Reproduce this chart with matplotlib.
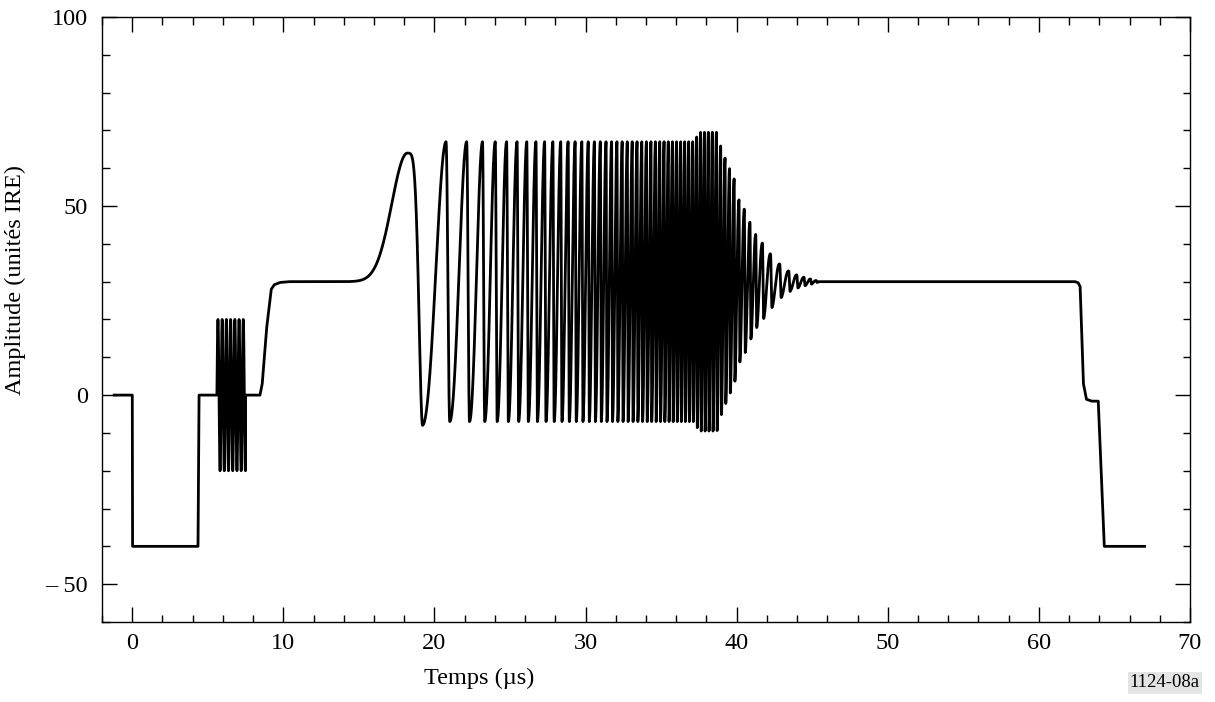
import numpy as np
import matplotlib
matplotlib.use("Agg")
import matplotlib.pyplot as plt
from matplotlib.ticker import MultipleLocator, FuncFormatter

plt.rcParams['font.family'] = ['Liberation Serif', 'DejaVu Serif']

# waveform: time in µs, amplitude in IRE units
start_t = [-1.2, 0.0, 0.02, 4.35, 4.42, 5.6]
start_v = [0, 0, -40, -40, 0, 0]

burst_start, burst_end = 5.6, 7.5
burst_freq = 3.58          # MHz
burst_amp = 20

step_t = [7.5, 8.45, 8.6, 8.9, 9.2, 9.4, 9.8, 10.4, 13.0]
step_v = [0, 0, 3, 18, 28, 29.2, 29.8, 30, 30]

hump_start, hump_peak_t, hump_peak_v, hump_width = 13.0, 18.2, 64, 1.45
first_trough_t, first_trough_v = 19.21, -8

sweep_center = 30
sweep_rise = 0.84          # share of each cycle spent rising
# apparent cycle rate along the sweep (MHz), read from peak spacing
sweep_freq_t = [19.2, 20.1, 21.7, 22.85, 23.75, 28.0, 31.0, 34.0, 36.0, 38.0,
                38.7, 39.9, 40.5, 41.2, 41.7, 42.5, 43.3, 44.0, 44.7, 45.5]
sweep_freq_mhz = [0.45, 0.55, 0.76, 0.99, 1.23, 1.9, 2.6, 3.3, 3.7, 3.9,
                  3.6, 3.2, 2.7, 2.6, 2.0, 1.6, 1.7, 2.0, 2.3, 3.0]
env_t = [19.2, 20.5, 37.2, 37.5, 38.7, 39.0, 39.4, 39.85, 40.1, 40.6, 40.9,
         41.2, 41.7, 42.3, 43.0, 43.6, 44.1, 44.5, 45.0, 45.5]
env_a = [38, 37, 37, 39.5, 39.5, 35, 31, 27, 22, 18.5, 15.5,
         12.8, 10.2, 7, 4, 2.4, 1.6, 1.1, 0.6, 0]
sweep_end = 45.5

tail_t = [45.5, 62.4, 62.6, 62.73, 62.95, 63.15, 63.5, 63.93, 64.33, 67.0]
tail_v = [30, 30, 29.7, 28.7, 3, -1.1, -1.6, -1.6, -40, -40]

# build the trace
tb = np.linspace(burst_start, burst_end, 600)
vb = burst_amp * np.sin(2 * np.pi * burst_freq * (tb - burst_start))

th = np.linspace(hump_start, hump_peak_t, 300)
vh = sweep_center + (hump_peak_v - sweep_center) * np.exp(-((th - hump_peak_t) / hump_width) ** 2)

tf = np.linspace(hump_peak_t, first_trough_t, 200)
s = (tf - hump_peak_t) / (first_trough_t - hump_peak_t)
mid = (hump_peak_v + first_trough_v) / 2
half = (hump_peak_v - first_trough_v) / 2
vf = mid + half * np.cos(np.pi * s ** 2.2)

ts = np.arange(first_trough_t, sweep_end, 0.002)
fr = np.interp(ts, sweep_freq_t, sweep_freq_mhz)
ncyc = np.concatenate([[0], np.cumsum((fr[1:] + fr[:-1]) / 2 * np.diff(ts))])
u = ncyc % 1.0
shape = np.where(u < sweep_rise,
                 -np.cos(np.pi * u / sweep_rise),
                 np.cos(np.pi * (u - sweep_rise) / (1 - sweep_rise)))
vs = sweep_center + np.interp(ts, env_t, env_a) * shape

t = np.concatenate([start_t, tb, step_t, th, tf, ts, tail_t])
v = np.concatenate([start_v, vb, step_v, vh, vf, vs, tail_v])

fig = plt.figure(figsize=(12.15, 7.02), dpi=100)
ax = fig.add_axes([0.084, 0.114, 0.8954, 0.8618])
ax.plot(t, v, color='black', lw=2.0)

ax.set_xlim(-2, 70)
ax.set_ylim(-60, 100)
ax.xaxis.set_major_locator(MultipleLocator(10))
ax.xaxis.set_minor_locator(MultipleLocator(2))
ax.yaxis.set_major_locator(MultipleLocator(50))
ax.yaxis.set_minor_locator(MultipleLocator(10))
ax.yaxis.set_major_formatter(FuncFormatter(lambda y, p: f"– {abs(int(y))}" if y < 0 else f"{int(y)}"))

ax.tick_params(which='both', direction='in', top=True, right=True, width=1.0, labelsize=17.5)
ax.tick_params(which='major', length=10.8)
ax.tick_params(which='minor', length=5.4)
ax.tick_params(axis='x', pad=8)
ax.tick_params(axis='y', pad=10)
for sp in ax.spines.values():
    sp.set_linewidth(1.0)

ax.set_xlabel("Temps (µs)", fontsize=17.5)
ax.xaxis.set_label_coords(0.347, -0.075)
ax.set_ylabel("Amplitude (unités IRE)", fontsize=17.5)
ax.yaxis.set_label_coords(-0.07, 0.565)

fig.text(0.9875, 0.015, "1124-08a", fontsize=13.5, ha='right', va='bottom',
         bbox=dict(facecolor='#e4e4e4', edgecolor='none', pad=1.5))

fig.savefig("out.png", dpi=100)
